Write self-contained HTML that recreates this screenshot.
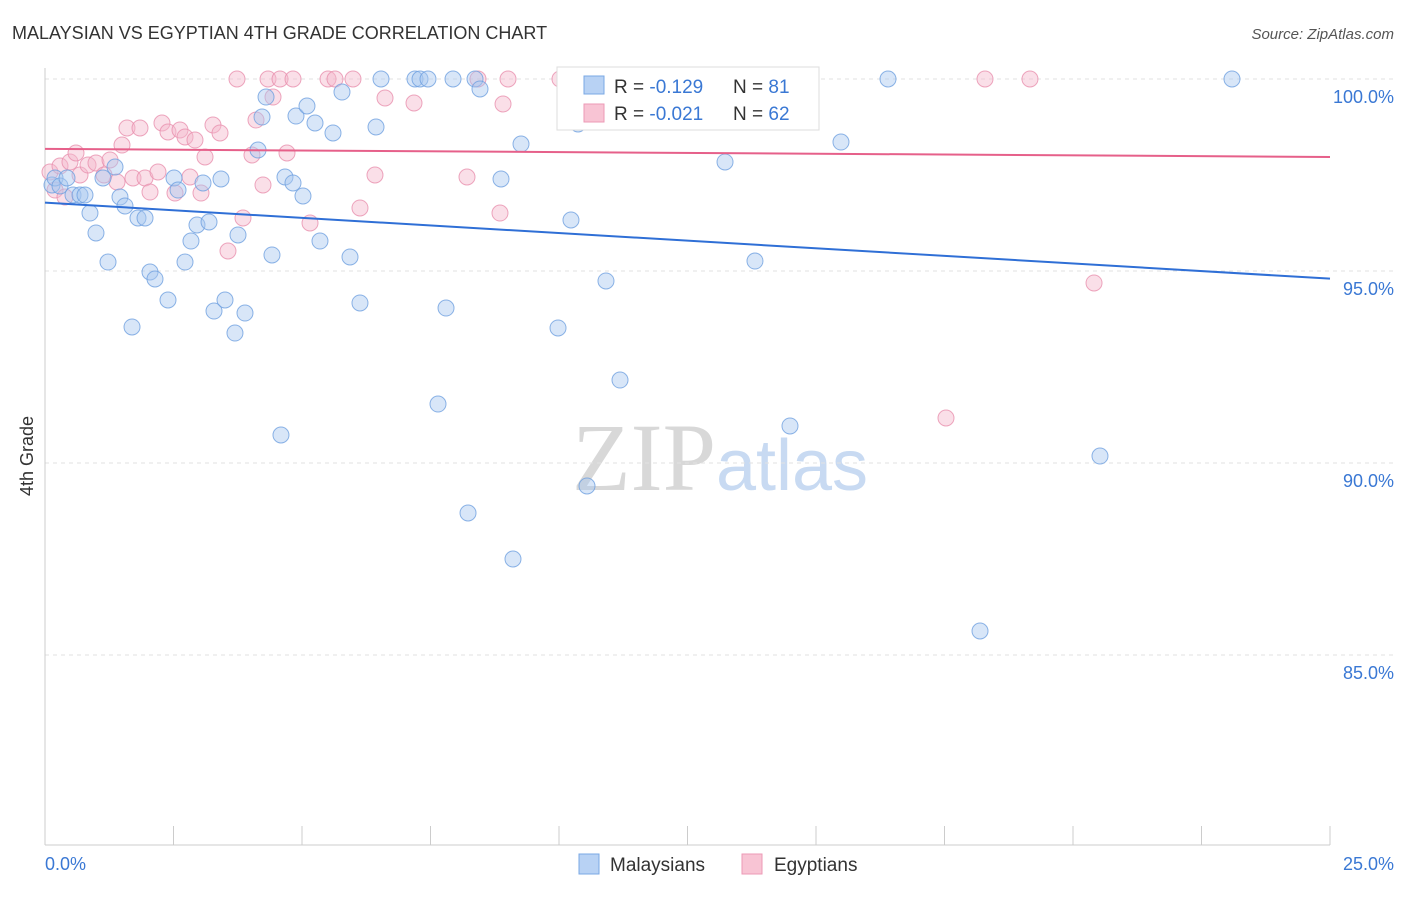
<!DOCTYPE html>
<html><head><meta charset="utf-8"><style>
body{margin:0;background:#fff;font-family:"Liberation Sans",sans-serif;}
</style></head><body>
<svg width="1406" height="892" viewBox="0 0 1406 892" xmlns="http://www.w3.org/2000/svg">
<text x="12" y="39" font-size="18" fill="#333">MALAYSIAN VS EGYPTIAN 4TH GRADE CORRELATION CHART</text>
<text x="1394" y="39" font-size="15" fill="#555" font-style="italic" text-anchor="end">Source: ZipAtlas.com</text>
<text x="720" y="490" font-size="96" fill="#d8d8d8" text-anchor="middle" font-family="Liberation Serif,serif">ZIP<tspan fill="#c8daf2" font-family="Liberation Sans,sans-serif" font-size="72">atlas</tspan></text>
<g id="grid"></g>
<line x1="45" y1="68" x2="45" y2="845" stroke="#ccc"/>
<line x1="45" y1="845" x2="1330" y2="845" stroke="#ccc"/>
<text x="33" y="456" font-size="18" fill="#333" transform="rotate(-90 33 456)" text-anchor="middle">4th Grade</text>
<text x="45" y="870" font-size="18" fill="#3a78d4">0.0%</text>
<text x="1394" y="870" font-size="18" fill="#3a78d4" text-anchor="end">25.0%</text>
<g id="pts"></g>
<g id="trends"></g>
<g>
<rect x="557" y="67" width="262" height="63" fill="#fff" stroke="#ddd"/>
<rect x="584" y="76" width="20" height="18" fill="#b8d2f4" stroke="#7aa8e4"/>
<text x="614" y="93" font-size="19" fill="#333">R = <tspan fill="#3a78d4">-0.129</tspan></text>
<text x="733" y="93" font-size="19" fill="#333">N = <tspan fill="#3a78d4">81</tspan></text>
<rect x="584" y="104" width="20" height="18" fill="#f8c4d4" stroke="#ec9ab6"/>
<text x="614" y="120" font-size="19" fill="#333">R = <tspan fill="#3a78d4">-0.021</tspan></text>
<text x="733" y="120" font-size="19" fill="#333">N = <tspan fill="#3a78d4">62</tspan></text>
</g>
<g>
<rect x="579" y="854" width="20" height="20" fill="#b8d2f4" stroke="#7aa8e4"/>
<text x="610" y="871" font-size="19" fill="#333">Malaysians</text></g>
<g>
<rect x="742" y="854" width="20" height="20" fill="#f8c4d4" stroke="#ec9ab6"/>
<text x="774" y="871" font-size="19" fill="#333">Egyptians</text></g>
</svg>
<script>
const yTicks=[100,95,90,85];
const xTicks=[0,2.5,5,7.5,10,12.5,15,17.5,20,22.5,25];
const bluePx=[[52,185],[55,178],[60,186],[67,178],[73,195],[80,195],[85,195],[90,213],[96,233],[108,262],[103,178],[115,167],[120,197],[125,206],[132,327],[138,218],[145,218],[150,272],[155,279],[168,300],[174,178],[178,190],[185,262],[191,241],[197,225],[203,183],[209,222],[214,311],[221,179],[225,300],[235,333],[238,235],[245,313],[258,150],[262,117],[266,97],[272,255],[281,435],[285,177],[293,183],[296,116],[303,196],[307,106],[315,123],[320,241],[333,133],[342,92],[350,257],[360,303],[376,127],[381,79],[415,79],[420,79],[428,79],[438,404],[446,308],[453,79],[468,513],[475,79],[480,89],[501,179],[513,559],[521,144],[558,328],[571,220],[578,124],[587,486],[606,281],[620,380],[636,79],[725,162],[755,261],[770,79],[790,426],[841,142],[888,79],[980,631],[1100,456],[1232,79]];
const pinkPx=[[50,172],[55,190],[60,166],[65,197],[70,162],[76,153],[80,175],[88,165],[96,163],[104,175],[110,160],[117,182],[122,145],[127,128],[133,178],[140,128],[145,178],[150,192],[158,172],[162,123],[168,132],[175,193],[180,130],[185,137],[190,177],[195,140],[201,193],[205,157],[213,125],[220,133],[228,251],[237,79],[243,218],[252,155],[256,120],[263,185],[268,79],[273,97],[280,79],[287,153],[293,79],[310,223],[328,79],[335,79],[353,79],[360,208],[375,175],[385,98],[414,103],[467,177],[478,79],[500,213],[503,104],[508,79],[560,79],[598,95],[740,79],[946,418],[985,79],[1030,79],[1094,283]];
// convert read positions to data values (x %, y %)
const blueX=bluePx.map(p=>+((p[0]-45)/1285*25).toFixed(3)), blueY=bluePx.map(p=>+(100-(p[1]-79)/38.4).toFixed(3));
const pinkX=pinkPx.map(p=>+((p[0]-45)/1285*25).toFixed(3)), pinkY=pinkPx.map(p=>+(100-(p[1]-79)/38.4).toFixed(3));
const blueTrend=[96.78,94.8], pinkTrend=[98.18,97.97];
const sx=v=>45+v/25*1285, sy=v=>79+(100-v)*38.4;
const NS="http://www.w3.org/2000/svg";
function mk(t,a,p){const e=document.createElementNS(NS,t);for(const k in a)e.setAttribute(k,a[k]);p.appendChild(e);return e;}
const grid=document.getElementById('grid'),svg=document.querySelector('svg');
yTicks.forEach(v=>{
 const l=mk('line',{x1:45,x2:1394,y1:sy(v),y2:sy(v),stroke:'#e2e2e2','stroke-dasharray':'4,4'},grid);
 
 
 const t=mk('text',{x:1394,y:sy(v)+24,'font-size':18,fill:'#3a78d4','text-anchor':'end'},grid);
 t.textContent=v.toFixed(1)+'%';
 
 
});
xTicks.forEach(v=>{
 const l=mk('line',{x1:sx(v),x2:sx(v),y1:826,y2:845,stroke:'#ccc'},grid);
 
 
});
const pts=document.getElementById('pts');
pinkX.forEach((x,i)=>{
 const c=mk('circle',{cx:sx(x),cy:sy(pinkY[i]),r:8,fill:'#f5b8cb','fill-opacity':0.45,stroke:'#e890ae','stroke-opacity':0.8},pts);
 
 
});
blueX.forEach((x,i)=>{
 const c=mk('circle',{cx:sx(x),cy:sy(blueY[i]),r:8,fill:'#a9c8f0','fill-opacity':0.45,stroke:'#6fa0e0','stroke-opacity':0.8},pts);
 
 
});
const tr=document.getElementById('trends');
const bl=mk('line',{x1:sx(0),x2:sx(25),y1:sy(blueTrend[0]),y2:sy(blueTrend[1]),stroke:'#2f6fd6','stroke-width':2},tr);


const pl=mk('line',{x1:sx(0),x2:sx(25),y1:sy(pinkTrend[0]),y2:sy(pinkTrend[1]),stroke:'#e6608a','stroke-width':2},tr);


</script>
</body></html>
